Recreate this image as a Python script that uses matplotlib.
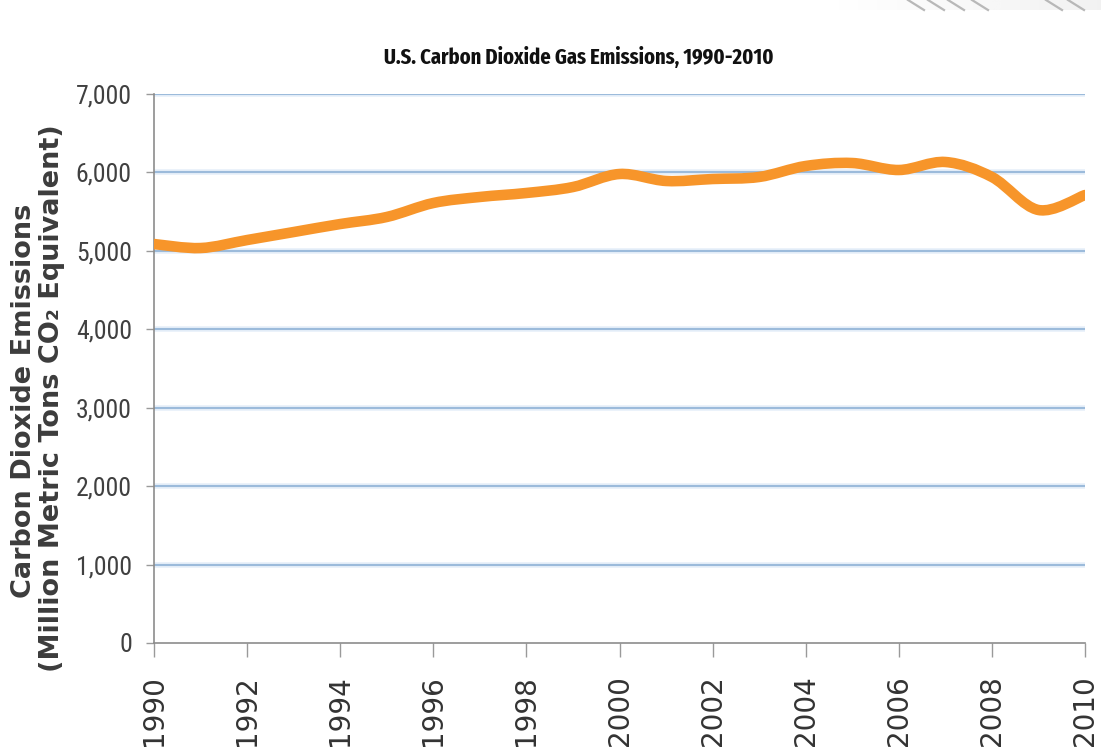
import matplotlib
matplotlib.use("Agg")
import numpy as np
import matplotlib.pyplot as plt
from matplotlib.path import Path
from matplotlib.patches import PathPatch
from matplotlib.lines import Line2D
from matplotlib.ticker import FuncFormatter

# U.S. CO2 emissions, million metric tons CO2 equivalent
years = list(range(1990, 2011))
emissions = [5087, 5036, 5138, 5240, 5342, 5432, 5610, 5687, 5738, 5814, 5980,
             5891, 5916, 5942, 6082, 6120, 6031, 6133, 5942, 5521, 5712]
x_ticks = list(range(1990, 2011, 2))
y_ticks = list(range(0, 7001, 1000))

title = "U.S. Carbon Dioxide Gas Emissions, 1990-2010"
ylabel_lines = ["Carbon Dioxide Emissions", "(Million Metric Tons CO\u2082 Equivalent)"]

W, H = 1101, 748
fig = plt.figure(figsize=(W / 100, H / 100), dpi=100)
fig.patch.set_facecolor("white")
ax = fig.add_axes([154 / W, 1 - 643 / H, (1085 - 154) / W, (643 - 94) / H])

# smooth curve through the yearly values (Catmull-Rom as cubic Bezier segments)
pts = np.column_stack([np.array(years, float), np.array(emissions, float)])
ext = np.vstack([pts[0], pts, pts[-1]])
verts = [tuple(pts[0])]
codes = [Path.MOVETO]
for i in range(len(pts) - 1):
    p0, p1, p2, p3 = ext[i], ext[i + 1], ext[i + 2], ext[i + 3]
    verts += [tuple(p1 + (p2 - p0) / 6.0), tuple(p2 - (p3 - p1) / 6.0), tuple(p2)]
    codes += [Path.CURVE4] * 3
ax.add_patch(PathPatch(Path(verts, codes), facecolor="none", edgecolor="#F7952A",
                       linewidth=7.6, capstyle="round", joinstyle="round", zorder=3))

ax.set_xlim(1990, 2010)
ax.set_ylim(0, 7000)
ax.set_xticks(x_ticks)
ax.set_yticks(y_ticks)
ax.yaxis.set_major_formatter(FuncFormatter(lambda v, p: f"{int(v):,}"))

# horizontal gridlines
for v in y_ticks[1:]:
    ax.axhline(v, color="#E6EFF9", linewidth=4.0, zorder=1)
    ax.axhline(v, color="#9CBBDB", linewidth=1.5, zorder=1.5)

for side in ("top", "right"):
    ax.spines[side].set_visible(False)
for side in ("left", "bottom"):
    ax.spines[side].set_color("#8C8C8C")
    ax.spines[side].set_linewidth(1.2)

ax.tick_params(axis="y", length=6, width=1.0, color="#9A9A9A", pad=10,
               labelsize=18.5, labelcolor="#404040")
ax.tick_params(axis="x", length=10, width=1.0, color="#9A9A9A", pad=13,
               labelsize=20, labelcolor="#333333", labelrotation=90)
for lab in ax.get_yticklabels():
    lab.set_family("Roboto Condensed")
for lab in ax.get_xticklabels():
    lab.set_family("DejaVu Sans")

fig.text(579 / W, 1 - 57 / H, title, ha="center", va="center",
         fontsize=16, fontweight="bold", family="Fira Sans Extra Condensed",
         color="#111111")

for xc, yc, line in zip([24, 52], [401, 398], ylabel_lines):
    fig.text(xc / W, 1 - yc / H, line, ha="center", va="center", rotation=90,
             fontsize=19.5, fontweight="bold", family="DejaVu Sans", color="#3C3C3C")

# faint striped band in the top-right corner
band = fig.add_axes([830 / W, 1 - 10 / H, (W - 830) / W, 10 / H], zorder=0)
grad = np.linspace(0, 1, 256)[None, :]
band.imshow(grad, aspect="auto", cmap="Greys", vmin=0, vmax=9,
            extent=(0, 1, 0, 1))
band.set_axis_off()
for x0 in [908, 928, 948, 972, 1046, 1068]:
    fig.add_artist(Line2D([x0 / W, (x0 + 16) / W], [1.0, 1 - 10 / H],
                          transform=fig.transFigure, color="#B8B8B8",
                          linewidth=1.6, zorder=1))

fig.savefig("out.png", dpi=100, facecolor="white")
